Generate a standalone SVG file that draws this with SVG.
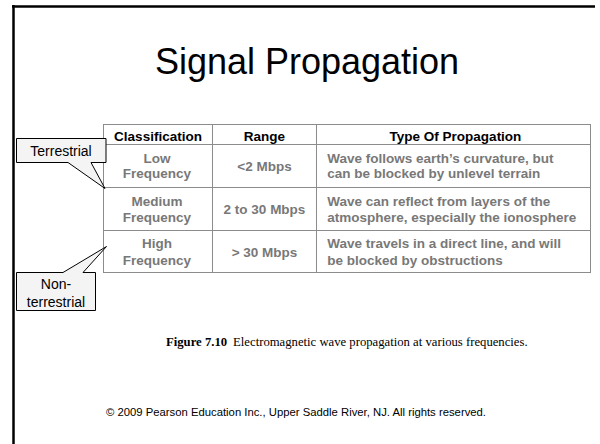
<svg xmlns="http://www.w3.org/2000/svg" width="600" height="444" viewBox="0 0 600 444">
<style>
.frame{stroke:#000;stroke-width:2.5;fill:none}
.grid{stroke:#8c8c8c;stroke-width:1;fill:none}
.hd{font-family:"Liberation Sans",Arial,sans-serif;font-size:13.5px;font-weight:bold;fill:#000}
.bd{font-family:"Liberation Sans",Arial,sans-serif;font-size:13.5px;font-weight:bold;fill:#787878}
.c{text-anchor:middle}
.call{fill:#f4f4f4;stroke:#000;stroke-width:1}
.ct{font-family:"Liberation Sans",Arial,sans-serif;font-size:14px;fill:#000;text-anchor:middle}
.cap{font-family:"Liberation Serif","Times New Roman",serif;font-size:12.7px;fill:#000}
</style>
<rect width="600" height="444" fill="#fff"/>
<g id="frame">
<line class="frame" x1="12" y1="6.5" x2="595" y2="6.5"/>
<line class="frame" x1="13.5" y1="5" x2="13.5" y2="444"/>
</g>
<g id="title">
<text x="307" y="74" font-family="Liberation Sans,Arial,sans-serif" font-size="36" text-anchor="middle" fill="#000">Signal Propagation</text>
</g>
<g id="table">
<rect class="grid" x="103.5" y="124.5" width="487" height="148"/>
<line class="grid" x1="212.5" y1="124.5" x2="212.5" y2="272.5"/>
<line class="grid" x1="316.5" y1="124.5" x2="316.5" y2="272.5"/>
<line class="grid" x1="103.5" y1="144.5" x2="590.5" y2="144.5"/>
<line class="grid" x1="103.5" y1="187.5" x2="590.5" y2="187.5"/>
<line class="grid" x1="103.5" y1="230.5" x2="590.5" y2="230.5"/>
<text class="hd c" x="158" y="140.5">Classification</text>
<text class="hd c" x="264.5" y="140.5">Range</text>
<text class="hd c" x="455.5" y="140.5">Type Of Propagation</text>
<text class="bd c" x="157" y="163.3">Low</text>
<text class="bd c" x="157" y="178.3">Frequency</text>
<text class="bd c" x="264.5" y="171">&lt;2 Mbps</text>
<text class="bd" x="327.3" y="163.3">Wave follows earth’s curvature, but</text>
<text class="bd" x="327.3" y="178.3">can be blocked by unlevel terrain</text>
<text class="bd c" x="157" y="206">Medium</text>
<text class="bd c" x="157" y="221.7">Frequency</text>
<text class="bd c" x="264.5" y="214">2 to 30 Mbps</text>
<text class="bd" x="327.3" y="206">Wave can reflect from layers of the</text>
<text class="bd" x="327.3" y="221.7">atmosphere, especially the ionosphere</text>
<text class="bd c" x="157" y="248.3">High</text>
<text class="bd c" x="157" y="265">Frequency</text>
<text class="bd c" x="264.5" y="256.7">&gt; 30 Mbps</text>
<text class="bd" x="327.3" y="248.3">Wave travels in a direct line, and will</text>
<text class="bd" x="327.3" y="265">be blocked by obstructions</text>
</g>
<g id="connectors">
<g id="callout-terrestrial">
<path class="call" d="M16.5,138.5 H106 V162.5 H91 L105,188.5 L68,162.5 H16.5 Z"/>
<text class="ct" x="61" y="155.5">Terrestrial</text>
</g>
<g id="callout-nonterrestrial">
<path class="call" d="M16.5,272.5 H63 L106.5,246.5 L83,272.5 H95.5 V310.5 H16.5 Z"/>
<text class="ct" x="56" y="288.5">Non-</text>
<text class="ct" x="56" y="306.5">terrestrial</text>
</g>
</g>
<g id="caption">
<text class="cap" x="166" y="346"><tspan font-weight="bold">Figure 7.10</tspan><tspan dx="6">Electromagnetic wave propagation at various frequencies.</tspan></text>
</g>
<g id="copyright">
<text x="106" y="416" font-family="Liberation Sans,Arial,sans-serif" font-size="10.5" fill="#000" textLength="380" lengthAdjust="spacingAndGlyphs">© 2009 Pearson Education Inc., Upper Saddle River, NJ. All rights reserved.</text>
</g>
</svg>
